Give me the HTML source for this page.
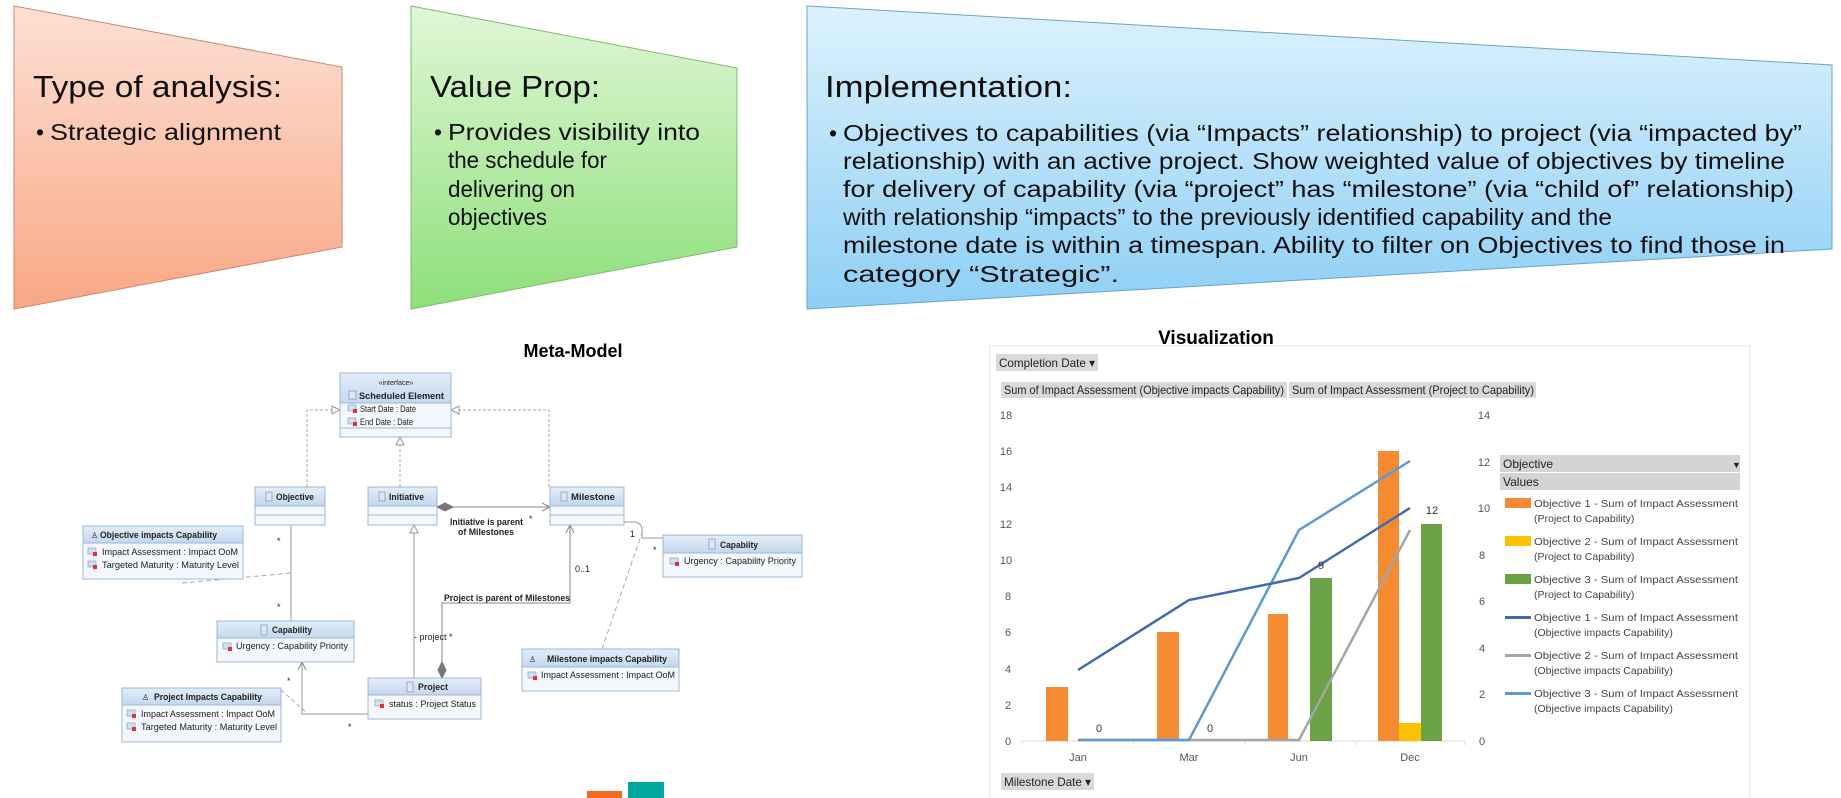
<!DOCTYPE html>
<html><head><meta charset="utf-8"><style>
html,body{margin:0;padding:0;background:#fff;}
svg{display:block;}
.n{font-family:"Liberation Sans",sans-serif;}
.s{font-family:"Liberation Sans",sans-serif;}
</style></head><body>
<svg width="1841" height="798" viewBox="0 0 1841 798" xmlns="http://www.w3.org/2000/svg">
<defs>
<linearGradient id="g1" x1="0" y1="0" x2="0" y2="1"><stop offset="0" stop-color="#fde0d4"/><stop offset="1" stop-color="#f9a785"/></linearGradient>
<linearGradient id="g2" x1="0" y1="0" x2="0" y2="1"><stop offset="0" stop-color="#e0f7d6"/><stop offset="1" stop-color="#8ddf79"/></linearGradient>
<linearGradient id="g3" x1="0" y1="0" x2="0" y2="1"><stop offset="0" stop-color="#dcf2fd"/><stop offset="1" stop-color="#8ecff5"/></linearGradient>
<linearGradient id="hd" x1="0" y1="0" x2="0" y2="1"><stop offset="0" stop-color="#e3eef9"/><stop offset="1" stop-color="#c3d7ee"/></linearGradient>
<marker id="tri" markerWidth="10" markerHeight="10" refX="9" refY="5" orient="auto" markerUnits="userSpaceOnUse"><path d="M1,1 L9,5 L1,9 Z" fill="#fff" stroke="#999"/></marker>
<marker id="opn" markerWidth="10" markerHeight="10" refX="9" refY="5" orient="auto" markerUnits="userSpaceOnUse"><path d="M1,1 L9,5 L1,9" fill="none" stroke="#888"/></marker>
<marker id="dia" markerWidth="20" markerHeight="10" refX="1" refY="5" orient="auto" markerUnits="userSpaceOnUse"><path d="M1,5 L9,1 L17,5 L9,9 Z" fill="#777" stroke="#777"/></marker>
</defs>

<polygon points="14,6 342,67 342,247 14,309" fill="url(#g1)" stroke="#c98a70" stroke-width="1"/>
<polygon points="411,6 737,68 737,247 411,309" fill="url(#g2)" stroke="#80b870" stroke-width="1"/>
<polygon points="807,6 1832,65 1832,249 807,309" fill="url(#g3)" stroke="#6aa4c8" stroke-width="1"/>

<g class="n" fill="#111">
<text x="33" y="97" font-size="31" textLength="249" lengthAdjust="spacingAndGlyphs">Type of analysis:</text>
<text x="36" y="140" font-size="23">•</text>
<text x="50" y="140" font-size="23" textLength="231" lengthAdjust="spacingAndGlyphs">Strategic alignment</text>

<text x="430" y="97" font-size="31" textLength="170" lengthAdjust="spacingAndGlyphs">Value Prop:</text>
<text x="434" y="140" font-size="23">•</text>
<text x="448" y="140" font-size="23" textLength="252" lengthAdjust="spacingAndGlyphs">Provides visibility into</text>
<text x="448" y="168" font-size="23" textLength="159" lengthAdjust="spacingAndGlyphs">the schedule for</text>
<text x="448" y="197" font-size="23" textLength="127" lengthAdjust="spacingAndGlyphs">delivering on</text>
<text x="448" y="225" font-size="23" textLength="99" lengthAdjust="spacingAndGlyphs">objectives</text>

<text x="825" y="97" font-size="31" textLength="247" lengthAdjust="spacingAndGlyphs">Implementation:</text>
<text x="829" y="141" font-size="23">•</text>
<text x="843" y="141" font-size="23" textLength="959" lengthAdjust="spacingAndGlyphs">Objectives to capabilities (via “Impacts” relationship) to project (via “impacted by”</text>
<text x="843" y="169" font-size="23" textLength="942" lengthAdjust="spacingAndGlyphs">relationship) with an active project. Show weighted value of objectives by timeline</text>
<text x="843" y="197" font-size="23" textLength="951" lengthAdjust="spacingAndGlyphs">for delivery of capability (via “project” has “milestone” (via “child of” relationship)</text>
<text x="843" y="225" font-size="23" textLength="769" lengthAdjust="spacingAndGlyphs">with relationship “impacts” to the previously identified capability and the</text>
<text x="843" y="253" font-size="23" textLength="942" lengthAdjust="spacingAndGlyphs">milestone date is within a timespan. Ability to filter on Objectives to find those in</text>
<text x="843" y="282" font-size="23" textLength="276" lengthAdjust="spacingAndGlyphs">category “Strategic”.</text>
</g>

<text x="573" y="357" class="s" font-size="18" font-weight="bold" text-anchor="middle" fill="#000">Meta-Model</text>

<g fill="none" stroke="#aaa" stroke-width="1">
<path d="M307,487 V410 H340" stroke-dasharray="3,2" marker-end="url(#tri)"/>
<path d="M400,487 V437" stroke-dasharray="3,2" marker-end="url(#tri)"/>
<path d="M549,487 V410 H451" stroke-dasharray="3,2" marker-end="url(#tri)"/>
<path d="M437,507 H550" stroke="#888" marker-start="url(#dia)" marker-end="url(#opn)"/>
<path d="M291,525 V621" stroke="#999"/>
<path d="M182,583 L291,573" stroke-dasharray="5,3"/>
<path d="M414,678 V525" stroke="#999" marker-end="url(#tri)"/>
<path d="M442,678 V603 H570 V525" stroke="#888" marker-start="url(#dia)" marker-end="url(#opn)"/>
<path d="M624,522 H636 Q642,524 642,530 V538 H663" stroke="#999"/>
<path d="M602,649 L644,527" stroke-dasharray="5,3"/>
<path d="M368,714 H302 V662" stroke="#999" marker-end="url(#opn)"/>
<path d="M281,690 L307,713" stroke-dasharray="4,3"/>
</g>
<g class="s" font-size="9" font-weight="bold" fill="#222">
<text x="450" y="525" textLength="73" lengthAdjust="spacingAndGlyphs">Initiative is parent</text>
<text x="458" y="535" textLength="56" lengthAdjust="spacingAndGlyphs">of Milestones</text>
<text x="444" y="601" textLength="126" lengthAdjust="spacingAndGlyphs">Project is parent of Milestones</text>
</g>
<g class="s" font-size="9" fill="#222">
<text x="529" y="522">*</text>
<text x="575" y="572">0..1</text>
<text x="414" y="640">- project *</text>
<text x="630" y="537">1</text>
<text x="653" y="553">*</text>
<text x="277" y="544">*</text>
<text x="277" y="610">*</text>
<text x="287" y="684">*</text>
<text x="348" y="730">*</text>
</g>

<g class="s" font-size="9" fill="#222">
<rect x="340" y="373" width="111" height="64" fill="#f4f8fc" stroke="#9bb7d6"/>
<rect x="340" y="373" width="111" height="30" fill="url(#hd)" stroke="#9bb7d6"/>
<line x1="340" y1="428" x2="451" y2="428" stroke="#9bb7d6"/>
<text x="396" y="385" text-anchor="middle" font-size="7">«interface»</text>
<rect x="349" y="391" width="7" height="8" fill="#dde8f4" stroke="#7a96b8" stroke-width=".7"/>
<text x="359" y="399" font-weight="bold" textLength="85" lengthAdjust="spacingAndGlyphs">Scheduled Element</text>
<rect x="348" y="405" width="8" height="6" fill="#cfe0f0" stroke="#7a96b8" stroke-width=".6"/><rect x="353" y="409" width="4" height="4" fill="#d33"/>
<text x="360" y="412" textLength="56" lengthAdjust="spacingAndGlyphs">Start Date : Date</text>
<rect x="348" y="418" width="8" height="6" fill="#cfe0f0" stroke="#7a96b8" stroke-width=".6"/><rect x="353" y="422" width="4" height="4" fill="#d33"/>
<text x="360" y="425" textLength="53" lengthAdjust="spacingAndGlyphs">End Date : Date</text>

<rect x="255" y="487" width="70" height="38" fill="#f4f8fc" stroke="#9bb7d6"/>
<rect x="255" y="487" width="70" height="19" fill="url(#hd)" stroke="#9bb7d6"/>
<line x1="255" y1="515" x2="325" y2="515" stroke="#9bb7d6"/>
<rect x="266" y="492" width="6" height="9" fill="#dde8f4" stroke="#7a96b8" stroke-width=".7"/>
<text x="276" y="500" font-weight="bold" textLength="38" lengthAdjust="spacingAndGlyphs">Objective</text>

<rect x="368" y="487" width="69" height="38" fill="#f4f8fc" stroke="#9bb7d6"/>
<rect x="368" y="487" width="69" height="19" fill="url(#hd)" stroke="#9bb7d6"/>
<line x1="368" y1="515" x2="437" y2="515" stroke="#9bb7d6"/>
<rect x="379" y="492" width="6" height="9" fill="#dde8f4" stroke="#7a96b8" stroke-width=".7"/>
<text x="389" y="500" font-weight="bold" textLength="35" lengthAdjust="spacingAndGlyphs">Initiative</text>

<rect x="550" y="487" width="74" height="38" fill="#f4f8fc" stroke="#9bb7d6"/>
<rect x="550" y="487" width="74" height="19" fill="url(#hd)" stroke="#9bb7d6"/>
<line x1="550" y1="515" x2="624" y2="515" stroke="#9bb7d6"/>
<rect x="561" y="492" width="6" height="9" fill="#dde8f4" stroke="#7a96b8" stroke-width=".7"/>
<text x="571" y="500" font-weight="bold" textLength="44" lengthAdjust="spacingAndGlyphs">Milestone</text>

<rect x="83" y="526" width="160" height="53" fill="#f4f8fc" stroke="#9bb7d6"/>
<rect x="83" y="526" width="160" height="17" fill="url(#hd)" stroke="#9bb7d6"/>
<text x="100" y="538" font-weight="bold" textLength="117" lengthAdjust="spacingAndGlyphs">Objective impacts Capability</text>
<text x="91" y="538" font-size="8">♙</text>
<rect x="88" y="548" width="8" height="6" fill="#cfe0f0" stroke="#7a96b8" stroke-width=".6"/><rect x="93" y="552" width="4" height="4" fill="#d33"/>
<text x="102" y="555" textLength="136" lengthAdjust="spacingAndGlyphs">Impact Assessment : Impact OoM</text>
<rect x="88" y="561" width="8" height="6" fill="#cfe0f0" stroke="#7a96b8" stroke-width=".6"/><rect x="93" y="565" width="4" height="4" fill="#d33"/>
<text x="102" y="568" textLength="137" lengthAdjust="spacingAndGlyphs">Targeted Maturity : Maturity Level</text>

<rect x="663" y="535" width="139" height="42" fill="#f4f8fc" stroke="#9bb7d6"/>
<rect x="663" y="535" width="139" height="18" fill="url(#hd)" stroke="#9bb7d6"/>
<rect x="709" y="539" width="6" height="10" fill="#dde8f4" stroke="#7a96b8" stroke-width=".7"/>
<text x="720" y="548" font-weight="bold" textLength="38" lengthAdjust="spacingAndGlyphs">Capabiity</text>
<rect x="670" y="558" width="8" height="6" fill="#cfe0f0" stroke="#7a96b8" stroke-width=".6"/><rect x="675" y="562" width="4" height="4" fill="#d33"/>
<text x="684" y="564" textLength="112" lengthAdjust="spacingAndGlyphs">Urgency : Capability Priority</text>

<rect x="217" y="621" width="137" height="41" fill="#f4f8fc" stroke="#9bb7d6"/>
<rect x="217" y="621" width="137" height="17" fill="url(#hd)" stroke="#9bb7d6"/>
<rect x="261" y="625" width="6" height="10" fill="#dde8f4" stroke="#7a96b8" stroke-width=".7"/>
<text x="272" y="633" font-weight="bold" textLength="40" lengthAdjust="spacingAndGlyphs">Capability</text>
<rect x="223" y="643" width="8" height="6" fill="#cfe0f0" stroke="#7a96b8" stroke-width=".6"/><rect x="228" y="647" width="4" height="4" fill="#d33"/>
<text x="236" y="649" textLength="112" lengthAdjust="spacingAndGlyphs">Urgency : Capability Priority</text>

<rect x="522" y="649" width="157" height="42" fill="#f4f8fc" stroke="#9bb7d6"/>
<rect x="522" y="649" width="157" height="18" fill="url(#hd)" stroke="#9bb7d6"/>
<text x="529" y="662" font-size="8">♙</text>
<text x="547" y="662" font-weight="bold" textLength="120" lengthAdjust="spacingAndGlyphs">Milestone impacts Capability</text>
<rect x="528" y="672" width="8" height="6" fill="#cfe0f0" stroke="#7a96b8" stroke-width=".6"/><rect x="533" y="676" width="4" height="4" fill="#d33"/>
<text x="541" y="678" textLength="134" lengthAdjust="spacingAndGlyphs">Impact Assessment : Impact OoM</text>

<rect x="122" y="688" width="159" height="54" fill="#f4f8fc" stroke="#9bb7d6"/>
<rect x="122" y="688" width="159" height="17" fill="url(#hd)" stroke="#9bb7d6"/>
<text x="142" y="700" font-size="8">♙</text>
<text x="154" y="700" font-weight="bold" textLength="108" lengthAdjust="spacingAndGlyphs">Project Impacts Capability</text>
<rect x="127" y="710" width="8" height="6" fill="#cfe0f0" stroke="#7a96b8" stroke-width=".6"/><rect x="132" y="714" width="4" height="4" fill="#d33"/>
<text x="141" y="717" textLength="134" lengthAdjust="spacingAndGlyphs">Impact Assessment : Impact OoM</text>
<rect x="127" y="723" width="8" height="6" fill="#cfe0f0" stroke="#7a96b8" stroke-width=".6"/><rect x="132" y="727" width="4" height="4" fill="#d33"/>
<text x="141" y="730" textLength="136" lengthAdjust="spacingAndGlyphs">Targeted Maturity : Maturity Level</text>

<rect x="368" y="678" width="113" height="41" fill="#f4f8fc" stroke="#9bb7d6"/>
<rect x="368" y="678" width="113" height="17" fill="url(#hd)" stroke="#9bb7d6"/>
<rect x="407" y="682" width="6" height="10" fill="#dde8f4" stroke="#7a96b8" stroke-width=".7"/>
<text x="418" y="690" font-weight="bold" textLength="30" lengthAdjust="spacingAndGlyphs">Project</text>
<rect x="375" y="700" width="8" height="6" fill="#cfe0f0" stroke="#7a96b8" stroke-width=".6"/><rect x="380" y="704" width="4" height="4" fill="#d33"/>
<text x="389" y="707" textLength="87" lengthAdjust="spacingAndGlyphs">status : Project Status</text>
</g>

<rect x="587" y="791" width="35" height="7" fill="#f26b21"/>
<rect x="628" y="782" width="36" height="16" fill="#00a99d"/>

<text x="1216" y="344" class="s" font-size="19" font-weight="bold" text-anchor="middle" fill="#000">Visualization</text>
<rect x="990" y="346" width="760" height="460" fill="#fff" stroke="#e2e2e2"/>
<g class="n" font-size="12" fill="#222">
<rect x="996" y="354" width="102" height="17" fill="#d9d9d9"/>
<text x="999" y="367" textLength="96" lengthAdjust="spacingAndGlyphs">Completion Date ▾</text>
<rect x="1001" y="382" width="286" height="16" fill="#d9d9d9"/>
<text x="1004" y="394" textLength="280" lengthAdjust="spacingAndGlyphs">Sum of Impact Assessment (Objective impacts Capability)</text>
<rect x="1289" y="382" width="247" height="16" fill="#d9d9d9"/>
<text x="1292" y="394" textLength="242" lengthAdjust="spacingAndGlyphs">Sum of Impact Assessment (Project to Capability)</text>
<rect x="1001" y="773" width="93" height="17" fill="#d9d9d9"/>
<text x="1004" y="786" textLength="87" lengthAdjust="spacingAndGlyphs">Milestone Date ▾</text>
</g>
<g class="s" font-size="11" fill="#555" text-anchor="middle">
<text x="1006" y="419">18</text><text x="1006" y="455">16</text><text x="1006" y="491">14</text>
<text x="1006" y="528">12</text><text x="1006" y="564">10</text><text x="1008" y="600">8</text>
<text x="1008" y="636">6</text><text x="1008" y="673">4</text><text x="1008" y="709">2</text><text x="1008" y="745">0</text>
<text x="1484" y="419">14</text><text x="1484" y="466">12</text><text x="1484" y="512">10</text>
<text x="1482" y="559">8</text><text x="1482" y="605">6</text><text x="1482" y="652">4</text>
<text x="1482" y="698">2</text><text x="1482" y="745">0</text>
<text x="1078" y="761">Jan</text><text x="1189" y="761">Mar</text><text x="1299" y="761">Jun</text><text x="1410" y="761">Dec</text>
</g>
<line x1="1022" y1="741" x2="1465" y2="741" stroke="#d9d9d9"/>
<g stroke="#d9d9d9"><line x1="1022" y1="741" x2="1022" y2="745"/><line x1="1134" y1="741" x2="1134" y2="745"/><line x1="1245" y1="741" x2="1245" y2="745"/><line x1="1356" y1="741" x2="1356" y2="745"/><line x1="1465" y1="741" x2="1465" y2="745"/></g>
<rect x="1046" y="687" width="22" height="54" fill="#f58a31"/>
<rect x="1157" y="632" width="22" height="109" fill="#f58a31"/>
<rect x="1268" y="614" width="20" height="127" fill="#f58a31"/>
<rect x="1378" y="451" width="21" height="290" fill="#f58a31"/>
<rect x="1399" y="723" width="22" height="18" fill="#ffc000"/>
<rect x="1310" y="578" width="22" height="163" fill="#6aa245"/>
<rect x="1421" y="524" width="21" height="217" fill="#6aa245"/>
<polyline points="1078,740 1189,740 1299,740 1410,530" fill="none" stroke="#a5a5a5" stroke-width="2.5"/>
<polyline points="1078,740 1189,740 1299,530 1410,461" fill="none" stroke="#5b9bd5" stroke-width="2.5"/>
<polyline points="1078,670 1189,600 1299,578 1410,508" fill="none" stroke="#4169b4" stroke-width="2.5"/>
<g class="s" font-size="11" fill="#333" text-anchor="middle">
<text x="1099" y="732">0</text><text x="1210" y="732">0</text><text x="1321" y="569">9</text><text x="1432" y="514">12</text>
</g>
<rect x="1500" y="455" width="240" height="17" fill="#d4d4d4"/>
<rect x="1500" y="473" width="240" height="17" fill="#d4d4d4"/>
<g class="n" font-size="12" fill="#222">
<text x="1503" y="468">Objective</text><text x="1732" y="468" font-size="9">▼</text>
<text x="1503" y="486">Values</text>
</g>
<rect x="1505" y="498" width="26" height="10" fill="#f58a31"/>
<rect x="1505" y="536" width="26" height="10" fill="#ffc000"/>
<rect x="1505" y="574" width="26" height="10" fill="#6aa245"/>
<rect x="1505" y="616" width="26" height="3" fill="#4169b4"/>
<rect x="1505" y="654" width="26" height="3" fill="#a5a5a5"/>
<rect x="1505" y="692" width="26" height="3" fill="#5b9bd5"/>
<g class="s" font-size="10.5" fill="#444">
<text x="1534" y="507" textLength="204" lengthAdjust="spacingAndGlyphs">Objective 1 - Sum of Impact Assessment</text>
<text x="1534" y="522">(Project to Capability)</text>
<text x="1534" y="545" textLength="204" lengthAdjust="spacingAndGlyphs">Objective 2 - Sum of Impact Assessment</text>
<text x="1534" y="560">(Project to Capability)</text>
<text x="1534" y="583" textLength="204" lengthAdjust="spacingAndGlyphs">Objective 3 - Sum of Impact Assessment</text>
<text x="1534" y="598">(Project to Capability)</text>
<text x="1534" y="621" textLength="204" lengthAdjust="spacingAndGlyphs">Objective 1 - Sum of Impact Assessment</text>
<text x="1534" y="636">(Objective impacts Capability)</text>
<text x="1534" y="659" textLength="204" lengthAdjust="spacingAndGlyphs">Objective 2 - Sum of Impact Assessment</text>
<text x="1534" y="674">(Objective impacts Capability)</text>
<text x="1534" y="697" textLength="204" lengthAdjust="spacingAndGlyphs">Objective 3 - Sum of Impact Assessment</text>
<text x="1534" y="712">(Objective impacts Capability)</text>
</g>
</svg>
</body></html>
